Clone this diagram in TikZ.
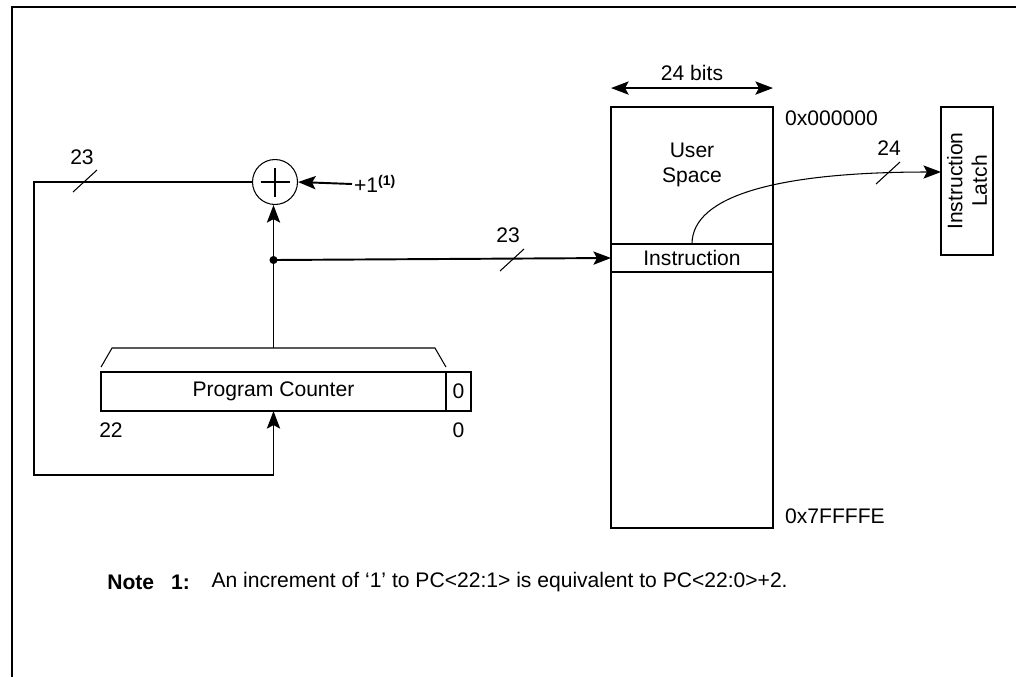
\documentclass[tikz,border=0pt]{standalone}
\usepackage{fontspec}
\setmainfont{Liberation Sans}
\usetikzlibrary{arrows.meta}

\tikzset{
  heavy/.style={line width=1.1pt},
  light/.style={line width=0.6pt},
  tip/.tip={Stealth[length=10pt,width=7.5pt,inset=2pt]},
  arr/.style={-tip},
  box/.style={draw, heavy, inner sep=0pt, outer sep=0pt},
}

\begin{document}
\begin{tikzpicture}[x=0.02cm, y=-0.02cm, font=\fontsize{12}{14}\selectfont]
  \useasboundingbox (0,0) rectangle (1016,677);
  \draw[line width=1.2pt] (12,677) -- (12,7) -- (1016,7);

  % adder
  \node[circle, draw, light, minimum size=0.9cm, inner sep=0pt] (add) at (275,182) {};
  \draw[heavy] ([xshift=-0.29cm]add.center) -- ([xshift=0.29cm]add.center)
               ([yshift=-0.29cm]add.center) -- ([yshift=0.29cm]add.center);
  \node[anchor=west, inner sep=1pt] (inc) at (352,184) {+1\textsuperscript{\bfseries(1)}};
  \draw[heavy, arr] (inc.west) -- (add.east);

  % program counter
  \node[box, minimum width=6.9cm, minimum height=0.78cm] (pc) at (273.5,391.5) {Program Counter};
  \node[box, minimum width=0.5cm, minimum height=0.78cm, anchor=west] (pcz) at (pc.east) {0};
  \node (msb) at (111,430) {22};
  \node (lsb) at (pcz |- msb) {0};
  \draw[light] ([yshift=0.1cm]pc.north west) -- ([shift={(0.22cm,0.48cm)}]pc.north west)
    -- ([shift={(-0.22cm,0.48cm)}]pc.north east) -- ([yshift=0.1cm]pc.north east);
  \coordinate (grp) at ([yshift=0.48cm]pc.north);

  % tap and feedback
  \coordinate (tap) at (273.5,260);
  \draw[heavy, arr] (grp) -- (tap) -- (tap |- add.south);
  \fill (tap) circle (2.3pt);
  \draw[heavy, arr] (add.west) -| (34,475) -| (pc.south);

  % memory
  \node[box, minimum width=3.24cm, minimum height=8.42cm] (mem) at (692,317.5) {};
  \node[box, minimum width=3.24cm, minimum height=0.56cm] (instr) at (692,258) {Instruction};
  \node[align=center] (user) at (692,165) {User\\Space};
  \draw[heavy, tip-tip] ([yshift=0.38cm]mem.north west) -- ([yshift=0.38cm]mem.north east);
  \node (bits) at (692,73) {24 bits};
  \draw[heavy, arr] (tap) -- (instr.west);
  \node[anchor=west] (first) at (779,118) {0x000000};
  \node[anchor=west] (last) at (779,516) {0x7FFFFE};

  % latch
  \node[box, rotate=90, align=center, minimum width=2.96cm, minimum height=1.04cm,
        font=\fontsize{12}{14}\selectfont] (latch) at (967,181) {Instruction\\Latch};
  \draw[light, arr] (instr.north) .. controls (692,195) and (780,172) .. ([yshift=0.18cm]latch.north);

  % bus widths
  \draw[light] (85,181) +(-12,11) -- +(12,-11);
  \node (w1) at (82,157) {23};
  \draw[light] (512,260) +(-12,11) -- +(12,-11);
  \node (w2) at (508,235) {23};
  \draw[light] (888,173) +(-12,11) -- +(12,-11);
  \node (w3) at (889,148) {24};

  % note
  \node[anchor=west, inner sep=0pt] (notehead) at (107,582) {\bfseries Note\hspace{0.8em}1:};
  \node[anchor=west, inner sep=0pt, xshift=1.2em] (notebody) at (notehead.east)
    {An increment of ‘1’ to PC<22:1> is equivalent to PC<22:0>+2.};
\end{tikzpicture}
\end{document}
